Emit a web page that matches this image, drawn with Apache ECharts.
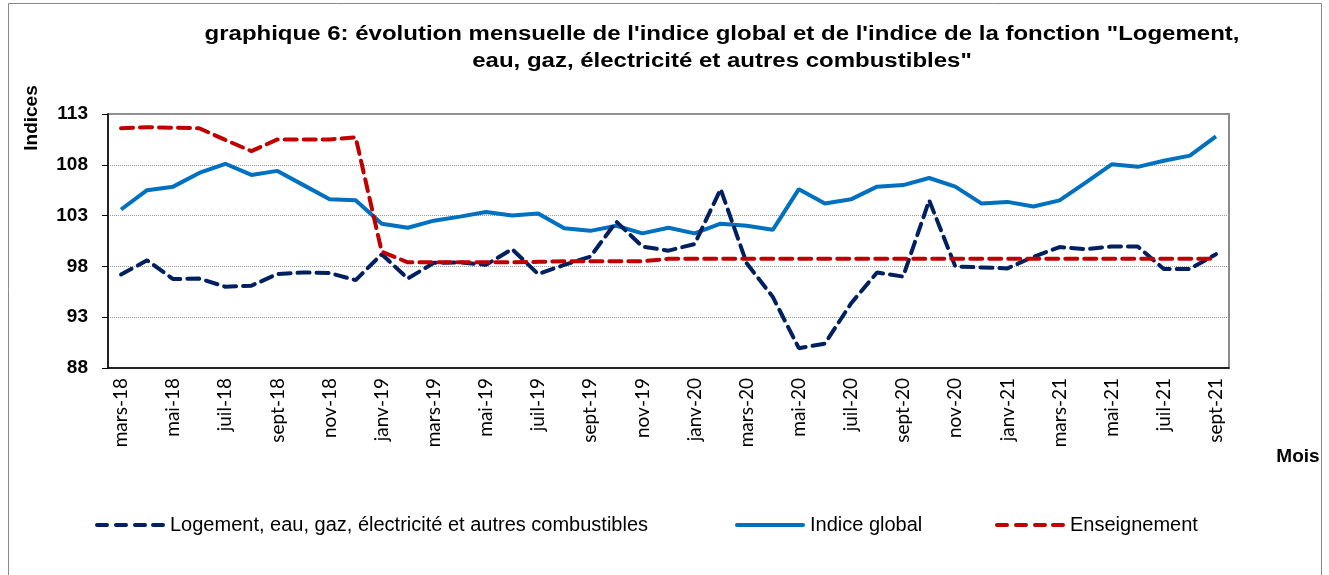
<!DOCTYPE html>
<html>
<head>
<meta charset="utf-8">
<script src="https://cdn.jsdelivr.net/npm/echarts@6/dist/echarts.min.js"></script>
<style>
  html, body { margin: 0; padding: 0; background: #fff; }
  #chart { width: 1329px; height: 575px; }
</style>
</head>
<body>
<div id="chart"></div>
<script>
// Months, mars-18 .. sept-21
const months = [
    'mars-18', 'avr-18', 'mai-18', 'juin-18', 'juil-18', 'août-18', 'sept-18', 'oct-18', 'nov-18', 'déc-18',
    'janv-19', 'févr-19', 'mars-19', 'avr-19', 'mai-19', 'juin-19', 'juil-19', 'août-19', 'sept-19', 'oct-19', 'nov-19', 'déc-19',
    'janv-20', 'févr-20', 'mars-20', 'avr-20', 'mai-20', 'juin-20', 'juil-20', 'août-20', 'sept-20', 'oct-20', 'nov-20', 'déc-20',
    'janv-21', 'févr-21', 'mars-21', 'avr-21', 'mai-21', 'juin-21', 'juil-21', 'août-21', 'sept-21'
];

const logement = [
    97.2, 98.6, 96.75, 96.8, 96.0, 96.1, 97.25, 97.4, 97.35, 96.65,
    99.2, 96.8, 98.35, 98.4, 98.15, 99.7, 97.25, 98.15, 98.95, 102.4,
    99.95, 99.55, 100.2, 105.6, 98.3, 95.0, 89.95, 90.4, 94.35, 97.4,
    97.0, 104.5, 98.0, 97.9, 97.8, 98.95, 99.9, 99.7, 99.95, 99.95,
    97.75, 97.75, 99.2
];

const indiceGlobal = [
    103.6, 105.5, 105.85, 107.2, 108.1, 107.0, 107.4, 106.0, 104.6, 104.5,
    102.2, 101.8, 102.5, 102.9, 103.35, 103.0, 103.2, 101.75, 101.5, 102.0,
    101.25, 101.8, 101.25, 102.2, 102.0, 101.6, 105.6, 104.2, 104.6, 105.85,
    106.0, 106.7, 105.85, 104.2, 104.35, 103.9, 104.5, 106.25, 108.05, 107.8,
    108.4, 108.9, 110.8
];

const enseignement = [
    111.6, 111.7, 111.65, 111.6, 110.45, 109.35, 110.5, 110.5, 110.5, 110.7,
    99.45, 98.4, 98.4, 98.4, 98.4, 98.4, 98.45, 98.5, 98.5, 98.5,
    98.5, 98.75, 98.75, 98.75, 98.75, 98.75, 98.75, 98.75, 98.75, 98.75,
    98.75, 98.75, 98.75, 98.75, 98.75, 98.75, 98.75, 98.75, 98.75, 98.75,
    98.75, 98.75, 98.75
];

const seriesNames = ['Logement, eau, gaz, électricité et autres combustibles', 'Indice global', 'Enseignement'];
const yTicks = { min: 88, max: 113, step: 5 };

const COLORS = { logement: '#002060', global: '#0070C0', enseignement: '#C00000' };
const ARIAL = '"Liberation Sans", Arial, sans-serif';

// legend icons drawn as filled shapes (dashes / solid bar)
const DASH_ICON = 'path://M2,0h10a2,2 0 0 1 0,4h-10a2,2 0 0 1 0,-4z M21,0h10a2,2 0 0 1 0,4h-10a2,2 0 0 1 0,-4z M40,0h10a2,2 0 0 1 0,4h-10a2,2 0 0 1 0,-4z M58,0h10a2,2 0 0 1 0,4h-10a2,2 0 0 1 0,-4z';
const SOLID_ICON = 'path://M2,0h66a2,2 0 0 1 0,4h-66a2,2 0 0 1 0,-4z';

const dashed = (color) => ({ color, width: 4, type: [12, 7], cap: 'round' });

const legendAt = (left, name, icon) => ({
    left, top: 510, itemWidth: 70, itemHeight: 4, itemGap: 0, icon,
    textStyle: { fontFamily: ARIAL, fontSize: 20, color: '#000' },
    data: [name]
});

const chart = echarts.init(document.getElementById('chart'));
chart.setOption({
    animation: false,
    backgroundColor: '#fff',
    legend: [
        legendAt(90, seriesNames[0], DASH_ICON),
        legendAt(730, seriesNames[1], SOLID_ICON),
        legendAt(990, seriesNames[2], DASH_ICON)
    ],
    grid: {
        left: 108, right: 100, top: 114, bottom: 207,
        show: true, borderColor: '#8c8c8c', borderWidth: 2
    },
    xAxis: {
        type: 'category', data: months, boundaryGap: true,
        axisLine: { lineStyle: { color: '#000', width: 1.5 } },
        axisTick: { interval: 0, length: 8, lineStyle: { color: '#000' } },
        axisLabel: { interval: 1, rotate: 90, margin: 10, fontFamily: 'Lato, sans-serif', fontSize: 19, color: '#000' }
    },
    yAxis: {
        type: 'value', min: yTicks.min, max: yTicks.max, interval: yTicks.step,
        axisLine: { show: true, lineStyle: { color: '#000', width: 1.5 } },
        axisTick: { show: true, length: 6, lineStyle: { color: '#000' } },
        axisLabel: { margin: 20, fontFamily: ARIAL, fontSize: 19, fontWeight: 'bold', color: '#000' },
        splitLine: { lineStyle: { color: '#999', type: 'dotted', width: 1 } }
    },
    graphic: [
        { type: 'rect', shape: { x: 8.5, y: 3.5, width: 1313, height: 620 }, style: { fill: 'none', stroke: '#888', lineWidth: 1 } },
        { type: 'text', x: 722, y: 48, scaleX: 1.2,
          style: { text: 'graphique 6: évolution mensuelle de l\'indice global et de l\'indice de la fonction "Logement,\neau, gaz, électricité et autres combustibles"',
                   font: 'bold 20px "Liberation Sans", Arial', lineHeight: 27, fill: '#000', textAlign: 'center', textVerticalAlign: 'middle' } },
        { type: 'text', x: 32, y: 118, rotation: Math.PI / 2,
          style: { text: 'Indices', font: 'bold 19px "Liberation Sans", Arial', fill: '#000', textAlign: 'center', textVerticalAlign: 'middle' } },
        { type: 'text', x: 1298, y: 457,
          style: { text: 'Mois', font: 'bold 19px "Liberation Sans", Arial', fill: '#000', textAlign: 'center', textVerticalAlign: 'middle' } }
    ],
    series: [
        { name: seriesNames[0], type: 'line', data: logement,
          symbol: 'none', lineStyle: dashed(COLORS.logement), itemStyle: { color: COLORS.logement }, z: 3 },
        { name: seriesNames[1], type: 'line', data: indiceGlobal,
          symbol: 'none', lineStyle: { color: COLORS.global, width: 4 }, itemStyle: { color: COLORS.global }, z: 2 },
        { name: seriesNames[2], type: 'line', data: enseignement,
          symbol: 'none', lineStyle: dashed(COLORS.enseignement), itemStyle: { color: COLORS.enseignement }, z: 4 }
    ]
});
</script>
</body>
</html>
